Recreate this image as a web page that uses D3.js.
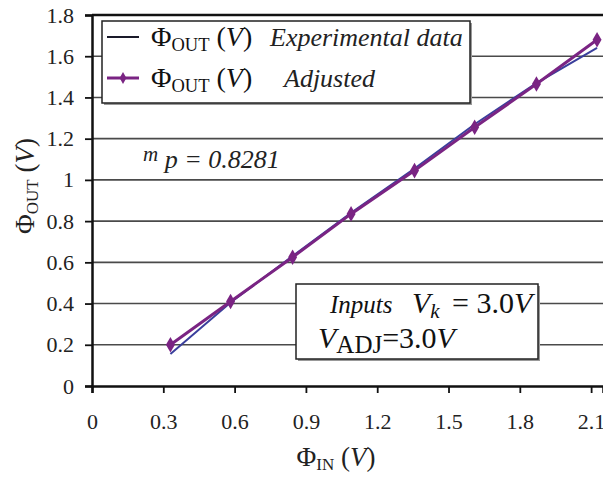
<!DOCTYPE html>
<html>
<head>
<meta charset="utf-8">
<script src="https://cdn.jsdelivr.net/npm/d3@7"></script>
<style>
  body { margin: 0; background: #fff; }
  text { font-family: "Liberation Serif", "DejaVu Serif", serif; }
</style>
</head>
<body>
<svg id="chart" width="603" height="477"></svg>
<script>
const phiIn = [0.33, 0.583, 0.844, 1.09, 1.357, 1.61, 1.87, 2.125];
const phiOutExperimental = [0.155, 0.405, 0.63, 0.84, 1.055, 1.27, 1.47, 1.64];
const phiOutAdjusted = [0.2, 0.41, 0.625, 0.835, 1.045, 1.255, 1.465, 1.68];
const xTicks = [0, 0.3, 0.6, 0.9, 1.2, 1.5, 1.8, 2.1];
const yTicks = [0, 0.2, 0.4, 0.6, 0.8, 1, 1.2, 1.4, 1.6, 1.8];

const svg = d3.select("#chart");
const width = 603, height = 477;
const margin = { top: 15, right: 0, bottom: 91, left: 92 };

const x = d3.scaleLinear().domain([0, 2.15]).range([margin.left, width - margin.right]);
const y = d3.scaleLinear().domain([0, 1.8]).range([height - margin.bottom, margin.top]);

// horizontal grid
svg.append("g")
  .selectAll("line")
  .data(yTicks.filter(d => d > 0 && d < 1.8))
  .join("line")
  .attr("x1", x(0)).attr("x2", width)
  .attr("y1", d => y(d)).attr("y2", d => y(d))
  .attr("stroke", "#4a4a4a").attr("stroke-width", 1.6);

// top border at 1.8
svg.append("line")
  .attr("x1", x(0)).attr("x2", width)
  .attr("y1", y(1.8)).attr("y2", y(1.8))
  .attr("stroke", "#111").attr("stroke-width", 2.5);

// y axis
const yAxis = svg.append("g")
  .attr("transform", `translate(${x(0)},0)`)
  .call(d3.axisLeft(y).tickValues(yTicks).tickSize(7).tickPadding(11).tickFormat(d => +d.toFixed(1)));
yAxis.select(".domain").attr("stroke", "#111").attr("stroke-width", 2.5);
yAxis.selectAll(".tick line").attr("stroke", "#111").attr("stroke-width", 1.8);
yAxis.selectAll(".tick text").attr("font-size", 22).attr("fill", "#222")
  .attr("font-family", "Liberation Serif");

// x axis
const xAxis = svg.append("g")
  .attr("transform", `translate(0,${y(0)})`)
  .call(d3.axisBottom(x).tickValues(xTicks).tickSize(7).tickPadding(20).tickFormat(d => +d.toFixed(1)));
xAxis.select(".domain").attr("stroke", "#111").attr("stroke-width", 2.5);
xAxis.selectAll(".tick line").attr("stroke", "#111").attr("stroke-width", 1.8);
xAxis.selectAll(".tick text").attr("font-size", 22).attr("fill", "#222")
  .attr("font-family", "Liberation Serif");

// data lines
const expData = phiIn.map((v, i) => ({ x: v, y: phiOutExperimental[i] }));
const adjData = phiIn.map((v, i) => ({ x: v, y: phiOutAdjusted[i] }));
const line = d3.line().x(d => x(d.x)).y(d => y(d.y));

svg.append("path").datum(expData)
  .attr("fill", "none").attr("stroke", "#3a3f9c").attr("stroke-width", 2)
  .attr("d", line);

svg.append("path").datum(adjData)
  .attr("fill", "none").attr("stroke", "#7a2483").attr("stroke-width", 3)
  .attr("d", line);

const diamond = d3.symbol().type(d3.symbolDiamond).size(70);
svg.append("g").selectAll("path")
  .data(adjData)
  .join("path")
  .attr("transform", d => `translate(${x(d.x)},${y(d.y)})`)
  .attr("d", diamond)
  .attr("fill", "#7a2483");

// legend box
const legend = svg.append("g");
legend.append("rect")
  .attr("x", 104).attr("y", 23).attr("width", 368).attr("height", 82)
  .attr("fill", "#999");
legend.append("rect")
  .attr("x", 102).attr("y", 21).attr("width", 368).attr("height", 82)
  .attr("fill", "#fff").attr("stroke", "#222").attr("stroke-width", 1.5);

const legendRows = [
  { label: "Experimental data", color: "#1a1a2a", marker: false, y: 37, labelX: 270 },
  { label: "Adjusted", color: "#7a2483", marker: true, y: 78, labelX: 284 }
];
legendRows.forEach(r => {
  legend.append("line")
    .attr("x1", 107).attr("x2", 139).attr("y1", r.y).attr("y2", r.y)
    .attr("stroke", r.color).attr("stroke-width", r.marker ? 3 : 2);
  if (r.marker) {
    legend.append("path").attr("transform", `translate(123,${r.y})`)
      .attr("d", d3.symbol().type(d3.symbolDiamond).size(40)).attr("fill", r.color);
  }
  const t = legend.append("text").attr("x", 151).attr("y", r.y + 9)
    .attr("font-size", 28).attr("fill", "#111");
  t.append("tspan").text("Φ");
  t.append("tspan").attr("font-size", 18.5).attr("dy", 5).text("OUT");
  t.append("tspan").attr("dy", -5).text(" (");
  t.append("tspan").attr("font-style", "italic").text("V");
  t.append("tspan").text(")");
  legend.append("text").attr("x", r.labelX).attr("y", r.y + 9)
    .attr("font-size", 26).attr("font-style", "italic").attr("fill", "#222")
    .text(r.label);
});

// slope annotation
const mp = svg.append("text").attr("x", 143).attr("y", 168)
  .attr("font-size", 26).attr("font-style", "italic").attr("fill", "#222");
mp.append("tspan").attr("font-size", 21).attr("dy", -7).text("m");
mp.append("tspan").attr("dy", 7).text(" p = 0.8281");

// inputs box
const box = svg.append("g");
box.append("rect").attr("x", 298).attr("y", 286).attr("width", 242).attr("height", 75).attr("fill", "#999");
box.append("rect").attr("x", 296).attr("y", 284).attr("width", 242).attr("height", 75)
  .attr("fill", "#fff").attr("stroke", "#222").attr("stroke-width", 1.5);

const r1 = box.append("text").attr("x", 330).attr("y", 313).attr("font-size", 25).attr("fill", "#111");
r1.append("tspan").attr("font-style", "italic").text("Inputs");
r1.append("tspan").attr("x", 412).attr("font-style", "italic").attr("font-size", 30).text("V");
r1.append("tspan").attr("font-style", "italic").attr("font-size", 21).attr("dy", 5).text("k");
r1.append("tspan").attr("x", 452).attr("dy", -5).attr("font-size", 30).text("= 3.0");
r1.append("tspan").attr("font-size", 30).attr("font-style", "italic").text("V");

const r2 = box.append("text").attr("x", 318).attr("y", 348).attr("font-size", 30).attr("fill", "#111");
r2.append("tspan").attr("font-style", "italic").text("V");
r2.append("tspan").attr("font-size", 25).attr("dy", 5).text("ADJ");
r2.append("tspan").attr("dy", -5).text("=3.0");
r2.append("tspan").attr("font-style", "italic").text("V");

// axis titles
const xt = svg.append("text").attr("x", 336).attr("y", 466).attr("text-anchor", "middle")
  .attr("font-size", 27).attr("fill", "#222");
xt.append("tspan").text("Φ");
xt.append("tspan").attr("font-size", 17).attr("dy", 4).text("IN");
xt.append("tspan").attr("dy", -4).text(" (");
xt.append("tspan").attr("font-style", "italic").text("V");
xt.append("tspan").text(")");

const yt = svg.append("text").attr("transform", "translate(34,186) rotate(-90)")
  .attr("text-anchor", "middle").attr("font-size", 27).attr("fill", "#222");
yt.append("tspan").text("Φ");
yt.append("tspan").attr("font-size", 17).attr("dy", 4).text("OUT");
yt.append("tspan").attr("dy", -4).text(" (");
yt.append("tspan").attr("font-style", "italic").text("V");
yt.append("tspan").text(")");
</script>
</body>
</html>
